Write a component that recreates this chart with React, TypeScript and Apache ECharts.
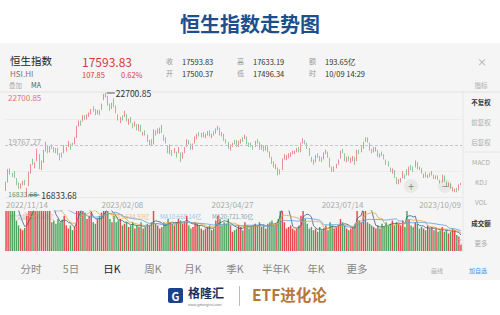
import React, { useEffect, useRef } from "react";
import * as echarts from "echarts";

const FONT = '"Noto Sans CJK SC", "Noto Sans", sans-serif';

// trading days (categories)
const dayGroups: [string, number[]][] = [
  ["2022/11", [14, 15, 16, 17, 18, 21, 22, 23, 24, 25, 28, 29, 30]],
  ["2022/12", [1, 2, 5, 6, 7, 8, 9, 12, 13, 14, 15, 16, 19, 20, 21, 22, 23, 28, 29, 30]],
  ["2023/01", [3, 4, 5, 6, 9, 10, 11, 12, 13, 16, 17, 18, 19, 20, 26, 27, 30, 31]],
  ["2023/02", [1, 2, 3, 6, 7, 8, 9, 10, 13, 14, 15, 16, 17, 20, 21, 22, 23, 24, 27, 28]],
  ["2023/03", [1, 2, 3, 6, 7, 8, 9, 10, 13, 14, 15, 16, 17, 20, 21, 22, 23, 24, 27, 28, 29, 30, 31]],
  ["2023/04", [3, 4, 6, 11, 12, 13, 14, 17, 18, 19, 20, 21, 24, 25, 26, 27, 28]],
  ["2023/05", [2, 3, 4, 5, 8, 9, 10, 11, 12, 15, 16, 17, 18, 19, 22, 23, 24, 25, 29, 30, 31]],
  ["2023/06", [1, 2, 5, 6, 7, 8, 9, 12, 13, 14, 15, 16, 19, 20, 21, 23, 26, 27, 28, 29, 30]],
  ["2023/07", [3, 4, 5, 6, 7, 10, 11, 12, 13, 14, 17, 18, 19, 20, 21, 24, 25, 26, 27, 28, 31]],
  ["2023/08", [1, 2, 3, 4, 7, 8, 9, 10, 11, 14, 15, 16, 17, 18, 21, 22, 23, 24, 25, 28, 29, 30, 31]],
  ["2023/09", [4, 5, 6, 7, 11, 12, 13, 14, 15, 18, 19, 20, 21, 22, 25, 26, 27, 28]],
  ["2023/10", [3, 4, 5, 6, 9]],
];

const dateLabels = ["2022/11/14", "2023/02/08", "2023/04/27", "2023/07/14", "2023/10/09"];
const priceTicks = ["22700.85", "19767.27", "16833.68"];
const priceMax = 22700.85;
const priceMin = 16833.68;

// [open, close, low, high]
const ohlc: number[][] = [
  [17350, 17619, 17180, 17700], [17700, 18343, 17650, 18400], [18300, 18256, 18100, 18450], [18100, 18045, 17950, 18200],
  [18200, 17993, 17900, 18300], [17850, 17656, 17500, 17900], [17550, 17424, 17300, 17650], [17450, 17524, 17300, 17600],
  [17600, 17661, 17500, 17750], [17750, 17574, 17500, 17800], [17000, 17298, 16833.68, 17350], [17500, 18204, 17450, 18250],
  [18250, 18597, 18150, 18700], [18800, 18736, 18650, 19000], [18600, 18675, 18450, 18800], [18900, 19518, 18850, 19550],
  [19200, 18442, 18400, 19250], [18600, 18815, 18350, 18900], [18800, 19450, 18750, 19500], [19500, 19901, 19400, 19950],
  [19700, 19463, 19300, 19750], [19550, 19596, 19350, 19700], [19750, 19674, 19550, 19800], [19550, 19451, 19350, 19650],
  [19500, 19451, 19300, 19600], [19500, 19353, 19200, 19600], [19200, 19095, 18900, 19300], [19200, 19161, 19050, 19350],
  [19350, 19680, 19300, 19750], [19550, 19594, 19400, 19650], [19700, 19898, 19650, 20000], [19750, 19741, 19500, 19850],
  [19850, 19781, 19700, 19900], [19900, 20145, 19800, 20200], [20200, 20793, 20150, 20850], [20950, 21052, 20800, 21150],
  [21000, 20992, 20850, 21150], [21200, 21388, 21100, 21450], [21400, 21332, 21200, 21450], [21350, 21436, 21200, 21500],
  [21500, 21514, 21350, 21600], [21650, 21738, 21500, 21800], [21900, 21746, 21650, 21950], [21700, 21578, 21450, 21800],
  [21600, 21678, 21500, 21750], [21700, 21651, 21450, 21750], [21800, 22044, 21750, 22100], [22350, 22567, 22300, 22650],
  [22600, 22689, 22450, 22700.85], [22500, 22069, 22000, 22550], [21950, 21842, 21700, 22100], [21900, 22072, 21800, 22150],
  [22300, 21958, 21900, 22400], [21900, 21660, 21550, 22000], [21400, 21222, 21150, 21500], [21200, 21298, 21000, 21350],
  [21350, 21283, 21150, 21450], [21400, 21624, 21350, 21700], [21450, 21190, 21100, 21500], [21100, 21164, 20900, 21250],
  [21250, 21113, 21000, 21350], [20950, 20813, 20700, 21000], [20900, 20988, 20800, 21100], [20850, 20719, 20600, 20950],
  [20700, 20887, 20550, 20950], [20850, 20529, 20500, 20900], [20350, 20424, 20300, 20500], [20550, 20351, 20300, 20600],
  [20300, 20010, 19950, 20350], [19900, 19944, 19750, 20050], [20050, 19786, 19700, 20100], [19850, 20619, 19800, 20650],
  [20500, 20429, 20300, 20600], [20550, 20568, 20400, 20700], [20600, 20603, 20400, 20750], [20650, 20535, 20450, 20900],
  [20300, 20052, 20000, 20350], [20100, 19926, 19850, 20200], [19700, 19320, 19300, 19750], [19350, 19696, 19250, 19800],
  [19450, 19248, 19150, 19500], [19350, 19539, 19300, 19600], [19300, 19204, 19050, 19400], [19350, 19519, 19300, 19650],
  [19300, 19001, 18800, 19350], [19100, 19259, 19000, 19350], [19350, 19592, 19300, 19650], [19700, 20050, 19650, 20100],
  [19950, 19916, 19800, 20050], [19800, 19567, 19500, 19850], [19600, 19785, 19500, 19850], [19900, 20192, 19850, 20250],
  [20250, 20310, 20100, 20400], [20450, 20400, 20250, 20500], [20350, 20409, 20200, 20450], [20450, 20275, 20200, 20500],
  [20250, 20332, 20150, 20400], [20400, 20485, 20300, 20550], [20550, 20310, 20250, 20600], [20250, 20344, 20150, 20400],
  [20450, 20438, 20300, 20550], [20500, 20650, 20400, 20700], [20700, 20782, 20600, 20850], [20700, 20367, 20300, 20750],
  [20400, 20397, 20250, 20500], [20350, 20075, 20000, 20400], [20000, 19960, 19850, 20100], [19900, 19617, 19550, 19950],
  [19600, 19757, 19450, 19800], [19800, 19841, 19650, 19900], [19950, 19895, 19800, 20050], [19950, 19699, 19650, 20050],
  [19700, 19934, 19650, 20000], [20000, 20049, 19850, 20100], [20100, 20050, 19950, 20200], [20150, 20298, 20100, 20350],
  [20200, 19867, 19800, 20250], [19850, 19762, 19650, 19900], [19800, 19744, 19650, 19900], [19700, 19628, 19500, 19750],
  [19700, 19972, 19650, 20000], [20000, 19978, 19850, 20100], [19900, 19561, 19500, 19950], [19600, 19727, 19500, 19800],
  [19700, 19451, 19400, 19750], [19500, 19679, 19450, 19750], [19650, 19432, 19350, 19700], [19350, 19116, 19050, 19400],
  [19000, 18747, 18700, 19100], [18800, 18552, 18500, 18850], [18550, 18596, 18400, 18700], [18450, 18234, 18050, 18500],
  [18250, 18216, 18100, 18400], [18400, 18949, 18350, 19000], [19100, 19109, 18950, 19250], [19050, 19099, 18900, 19200],
  [19100, 19252, 19000, 19300], [19250, 19300, 19100, 19350], [19350, 19390, 19250, 19450], [19350, 19405, 19250, 19450],
  [19450, 19522, 19350, 19600], [19550, 19408, 19350, 19650], [19400, 19829, 19350, 19900], [19900, 20041, 19850, 20150],
  [20000, 19913, 19800, 20050], [19850, 19608, 19550, 19900], [19550, 19219, 19150, 19600], [19050, 18890, 18800, 19100],
  [18850, 18795, 18650, 18950], [18850, 19149, 18800, 19200], [19200, 19173, 19050, 19300], [19100, 18935, 18850, 19150],
  [18950, 18916, 18800, 19100], [19000, 19307, 18950, 19350], [19350, 19416, 19250, 19500], [19350, 19110, 19050, 19400],
  [19000, 18533, 18500, 19050], [18500, 18366, 18250, 18550], [18400, 18480, 18250, 18550], [18550, 18660, 18450, 18700],
  [18700, 18861, 18650, 18950], [19050, 19414, 19000, 19450], [19450, 19414, 19300, 19550], [19250, 18903, 18850, 19300],
  [18850, 19015, 18800, 19100], [19050, 18953, 18850, 19150], [18900, 18928, 18750, 19050], [18950, 19075, 18850, 19150],
  [19050, 18668, 18650, 19100], [18900, 19434, 18850, 19500], [19400, 19366, 19250, 19500], [19400, 19639, 19350, 19700],
  [19650, 19917, 19550, 19950], [20050, 20079, 19950, 20200], [20150, 19979, 19900, 20200], [19850, 19518, 19450, 19900],
  [19450, 19421, 19300, 19550], [19450, 19540, 19350, 19650], [19500, 19537, 19400, 19650], [19450, 19184, 19100, 19500],
  [19200, 19246, 19050, 19300], [19350, 19248, 19150, 19400], [19200, 19075, 18950, 19250], [18850, 18773, 18650, 18950],
  [18800, 18581, 18550, 18850], [18450, 18329, 18250, 18500], [18300, 18327, 18150, 18450], [18300, 17951, 17900, 18350],
  [17900, 17624, 17550, 17950], [17650, 17791, 17550, 17850], [17800, 17847, 17650, 17900], [17950, 18212, 17900, 18300],
  [18000, 17956, 17850, 18100], [18350, 18130, 18050, 18400], [18100, 18484, 18050, 18550], [18550, 18482, 18350, 18650],
  [18450, 18382, 18250, 18550], [18550, 18844, 18500, 18900], [18750, 18456, 18400, 18800], [18450, 18449, 18350, 18550],
  [18400, 18202, 18150, 18450], [18050, 18096, 17900, 18150], [18150, 18026, 17950, 18250], [18000, 18009, 17900, 18100],
  [18100, 18048, 17950, 18200], [18150, 18182, 18050, 18300], [18050, 17931, 17850, 18100], [17950, 17997, 17850, 18050],
  [18000, 17886, 17800, 18050], [17750, 17655, 17600, 17800], [17700, 18057, 17650, 18100], [18000, 17730, 17700, 18050],
  [17650, 17467, 17400, 17700], [17500, 17612, 17400, 17650], [17550, 17373, 17300, 17600], [17250, 17331, 17150, 17400],
  [17150, 17196, 17100, 17300], [17300, 17214, 17100, 17350], [17250, 17486, 17200, 17550], [17500.37, 17593.83, 17496.34, 17633.19],
];

// turnover (亿)
const turnover: number[] = [
  1600, 2000, 1700, 1500, 1450, 950, 800, 700, 650, 720,
  1100, 1550, 1250, 1500, 1550, 1800, 1600, 1500, 1700, 1900,
  1550, 1500, 900, 950, 850, 1000, 900, 980, 1100, 800,
  700, 800, 650, 750, 1550, 1700, 1550, 1600, 1200, 1000,
  1100, 1200, 900, 850, 1000, 1100, 1200, 1500, 1300, 1550,
  1000, 900, 1100, 900, 950, 1000, 800, 850, 900, 750,
  800, 900, 700, 800, 750, 900, 700, 750, 850, 800,
  900, 1300, 850, 800, 700, 750, 900, 850, 1000, 900,
  850, 800, 900, 1000, 950, 850, 900, 1100, 800, 700,
  750, 900, 850, 800, 700, 650, 700, 750, 800, 650,
  700, 950, 1100, 1000, 800, 900, 850, 1000, 800, 600,
  650, 700, 800, 750, 650, 900, 800, 700, 750, 800,
  850, 800, 900, 750, 800, 700, 850, 900, 950, 800,
  850, 1000, 2000, 2200, 900, 700, 750, 800, 700, 650,
  700, 800, 1100, 2000, 1000, 850, 700, 750, 650, 700,
  600, 750, 650, 700, 800, 650, 900, 800, 700, 750,
  800, 1000, 900, 800, 700, 650, 700, 750, 850, 2100,
  950, 900, 2000, 1800, 900, 850, 800, 750, 700, 800,
  700, 850, 750, 900, 800, 850, 950, 800, 900, 850,
  800, 950, 750, 2000, 1000, 800, 750, 900, 850, 700,
  750, 700, 650, 800, 700, 750, 650, 700, 600, 650,
  750, 600, 650, 550, 600, 700, 650, 500, 450, 193.65,
];
const volMax = 1250;

const tabs = ["分时", "5日", "日K", "周K", "月K", "季K", "半年K", "年K", "更多"];
const tabX = [31, 71, 112, 153, 193, 235, 276, 316, 357];
const sideMenu = ["不复权", "前复权", "后复权", "MACD", "KDJ", "VOL", "成交额", "更多"];
const sideY = [102, 122, 142, 162, 182, 202, 223, 243];
const sideActive = ["不复权", "成交额"];

const RED = "#e5484d";
const GREEN = "#4ea45c";

const dates: string[] = [];
dayGroups.forEach(([m, ds]) => ds.forEach((d) => dates.push(`${m}/${String(d).padStart(2, "0")}`)));

function movingAvg(arr: number[], n: number) {
  return arr.map((_, i) => {
    if (i < n - 1) return "-";
    let s = 0;
    for (let k = i - n + 1; k <= i; k++) s += arr[k];
    return +(s / n).toFixed(2);
  });
}

function txt(x: number, y: number, text: string, size: number, fill: string, extra: any = {}, z = 5) {
  const align = extra.textAlign || "left";
  return {
    type: "text",
    x,
    y,
    z,
    style: {
      text,
      fontSize: size,
      fill,
      fontFamily: FONT,
      fontWeight: extra.fontWeight || "normal",
      textAlign: align,
      align,
      textVerticalAlign: "middle",
      verticalAlign: "middle",
      lineHeight: size,
    },
  };
}

export default function App() {
  const ref = useRef<HTMLDivElement>(null);
  useEffect(() => {
    if (!ref.current) return;
    const chart = echarts.init(ref.current, null, { renderer: "svg" });
    const highs = ohlc.map((d) => d[3]);
    const lows = ohlc.map((d) => d[2]);
    const maxIdx = highs.indexOf(Math.max(...highs));
    const minIdx = lows.indexOf(Math.min(...lows));
    const volData = turnover.map((v, i) => ({
      value: v,
      itemStyle: { color: ohlc[i][1] >= ohlc[i][0] ? RED : GREEN },
    }));

    const graphics: any[] = [
      { type: "rect", z: -10, shape: { x: 0, y: 43, width: 500, height: 237 }, style: { fill: "#f5f5f5" } },
      txt(250, 23, "恒生指数走势图", 20, "#1d4f8c", { fontWeight: "bold", textAlign: "center" }),
      txt(10, 60, "恒生指数", 10.5, "#222"),
      txt(10, 73, "HSI.HI", 8, "#777"),
      txt(9, 85, "叠加", 6.5, "#aaa"),
      txt(31, 85, "MA", 7, "#555"),
      txt(82, 61, "17593.83", 12, "#d6393d"),
      txt(82, 74, "107.85", 7.5, "#d6393d"),
      txt(121, 74, "0.62%", 7.5, "#d6393d"),
      txt(166, 61, "收", 7, "#999"),
      txt(182, 61, "17593.83", 7.5, "#333"),
      txt(166, 73, "开", 7, "#999"),
      txt(182, 73, "17500.37", 7.5, "#333"),
      txt(237, 61, "高", 7, "#999"),
      txt(253, 61, "17633.19", 7.5, "#333"),
      txt(237, 73, "低", 7, "#999"),
      txt(253, 73, "17496.34", 7.5, "#333"),
      txt(309, 61, "额", 7, "#999"),
      txt(325, 61, "193.65亿", 7.5, "#333"),
      txt(309, 73, "时", 7, "#999"),
      txt(325, 73, "10/09 14:29", 7.5, "#333"),
      txt(482, 61, "×", 10, "#aaa", { textAlign: "center" }),
      txt(481, 85, "指标", 6.5, "#aaa", { textAlign: "center" }),
      { type: "line", z: 1, shape: { x1: 0, y1: 92, x2: 500, y2: 92 }, style: { stroke: "#e2e2e2", lineWidth: 1 } },
      { type: "line", z: 1, shape: { x1: 463, y1: 92, x2: 463, y2: 252 }, style: { stroke: "#e6e6e6", lineWidth: 1 } },
      { type: "line", z: 1, shape: { x1: 465, y1: 152, x2: 500, y2: 152 }, style: { stroke: "#e6e6e6", lineWidth: 1 } },
      ...sideMenu.map((s, i) =>
        txt(481, sideY[i], s, 6.5, sideActive.includes(s) ? "#333" : "#aaa", {
          textAlign: "center",
          fontWeight: sideActive.includes(s) ? "bold" : "normal",
        })
      ),
      txt(10, 216, "成交额:193.65亿", 6, "#c4c4c4", {}, 0),
      txt(112, 216, "MA5:634.93亿", 6, "#eebd7a", {}, 0),
      txt(160, 216, "MA10:668.14亿", 6, "#9cc3e6", {}, 0),
      txt(212, 216, "MA20:721.30亿", 6, "#8ca0ab", {}, 0),
      txt(459, 241, "亿", 6, "#bbb", { textAlign: "center" }, 10),
      { type: "circle", z: 10, shape: { cx: 411, cy: 186, r: 7 }, style: { fill: "rgba(0,0,0,0.05)" } },
      txt(411, 186, "+", 11, "#888", { textAlign: "center" }, 11),
      { type: "circle", z: 10, shape: { cx: 445, cy: 186, r: 7 }, style: { fill: "rgba(0,0,0,0.05)" } },
      txt(445, 186, "−", 11, "#888", { textAlign: "center" }, 11),
      ...tabs.map((t, i) => txt(tabX[i], 268, t, 10.5, t === "日K" ? "#222" : "#888", { textAlign: "center" })),
      txt(437, 270, "画线", 6, "#aaa", { textAlign: "center" }),
      txt(478, 270, "加自选", 6, "#4a8fd6", { textAlign: "center" }),
      { type: "rect", z: 5, shape: { x: 168, y: 288, width: 15, height: 15, r: 2 }, style: { fill: "#1a428a" } },
      txt(175.5, 295.5, "G", 11, "#fff", { textAlign: "center", fontWeight: "bold" }, 6),
      txt(188, 292.5, "格隆汇", 12, "#1b2f5e", { fontWeight: "bold" }),
      txt(188, 304.5, "www.gelonghui.com", 3.5, "#777"),
      { type: "line", z: 5, shape: { x1: 239.5, y1: 286, x2: 239.5, y2: 306 }, style: { stroke: "#bbb", lineWidth: 1 } },
      txt(252, 294, "ETF进化论", 15.5, "#b7773b", { fontWeight: "bold" }),
    ];

    const option: any = {
      animation: false,
      backgroundColor: "#ffffff",
      textStyle: { fontFamily: FONT },
      graphic: graphics,
      grid: [
        { left: 5, width: 457, top: 93, height: 104 },
        { left: 5, width: 457, top: 211, height: 40 },
      ],
      xAxis: [
        {
          type: "category",
          gridIndex: 0,
          data: dates,
          boundaryGap: true,
          axisLine: { show: false },
          axisTick: { show: false },
          splitLine: { show: false },
          axisLabel: {
            fontSize: 8,
            color: "#aaa",
            margin: 3,
            interval: (i: number) => dateLabels.includes(dates[i]),
            alignMinLabel: "left",
            alignMaxLabel: "right",
          },
        },
        {
          type: "category",
          gridIndex: 1,
          data: dates,
          boundaryGap: true,
          axisLine: { show: false },
          axisTick: { show: false },
          axisLabel: { show: false },
          splitLine: { show: false },
        },
      ],
      yAxis: [
        {
          type: "value",
          gridIndex: 0,
          min: priceMin,
          max: priceMax,
          interval: (priceMax - priceMin) / 4,
          axisLine: { show: false },
          axisTick: { show: false },
          splitLine: {
            lineStyle: {
              color: ["#e9e9e9", "#ececec", "rgba(0,0,0,0)", "#ececec", "rgba(0,0,0,0)"],
              width: 1,
            },
          },
          axisLabel: {
            inside: true,
            margin: 3,
            fontSize: 8,
            formatter: (_v: number, i: number) => {
              if (i === 0) return `{b|${priceTicks[2]}}`;
              if (i === 2) return `{m|${priceTicks[1]}}`;
              if (i === 4) return `{t|${priceTicks[0]}}`;
              return "";
            },
            rich: {
              t: { fontSize: 8, color: "#e07575", padding: [8, 0, 0, 0], fontFamily: FONT },
              m: { fontSize: 8, color: "#aaa", padding: [0, 0, 8, 0], fontFamily: FONT },
              b: { fontSize: 7, color: "#579f66", padding: [0, 0, 6, 0], fontFamily: FONT },
            },
          },
        },
        {
          type: "value",
          gridIndex: 1,
          min: 0,
          max: volMax,
          axisLine: { show: false },
          axisTick: { show: false },
          axisLabel: { show: false },
          splitLine: { show: false },
        },
      ],
      series: [
        {
          type: "candlestick",
          xAxisIndex: 0,
          yAxisIndex: 0,
          data: ohlc,
          barWidth: "62%",
          itemStyle: {
            color: RED,
            color0: GREEN,
            borderColor: RED,
            borderColor0: GREEN,
            borderWidth: 0.6,
          },
          markLine: {
            silent: true,
            symbol: "none",
            label: { show: false },
            lineStyle: { type: [3, 2], color: "#c4c4c4", width: 1 },
            data: [{ yAxis: (priceMax + priceMin) / 2 }],
          },
          markPoint: {
            silent: true,
            data: [
              {
                coord: [maxIdx, highs[maxIdx]],
                value: highs[maxIdx],
                symbol: "rect",
                symbolSize: [8, 0.8],
                symbolOffset: [5, 0],
                itemStyle: { color: "#333" },
                label: { show: true, position: "right", distance: 1, formatter: "{c}", color: "#333", fontSize: 8.5, fontFamily: FONT },
              },
              {
                coord: [minIdx, lows[minIdx]],
                value: lows[minIdx],
                symbol: "rect",
                symbolSize: [11, 0.8],
                symbolOffset: [7, -2],
                itemStyle: { color: "#333" },
                label: { show: true, position: "right", distance: 2, formatter: "{c}", color: "#333", fontSize: 8.5, fontFamily: FONT },
              },
            ],
          },
        },
        {
          type: "bar",
          xAxisIndex: 1,
          yAxisIndex: 1,
          data: volData,
          barWidth: "70%",
        },
        {
          type: "line",
          xAxisIndex: 1,
          yAxisIndex: 1,
          data: movingAvg(turnover, 5),
          showSymbol: false,
          lineStyle: { width: 0.8, color: "#3e5f73" },
        },
        {
          type: "line",
          xAxisIndex: 1,
          yAxisIndex: 1,
          data: movingAvg(turnover, 10),
          showSymbol: false,
          lineStyle: { width: 0.8, color: "#e8a33c" },
        },
        {
          type: "line",
          xAxisIndex: 1,
          yAxisIndex: 1,
          data: movingAvg(turnover, 20),
          showSymbol: false,
          lineStyle: { width: 0.8, color: "#5b9fd8" },
        },
      ],
    };
    chart.setOption(option);
    return () => chart.dispose();
  }, []);
  return <div ref={ref} style={{ position: "fixed", left: 0, top: 0, width: 500, height: 315 }} />;
}
